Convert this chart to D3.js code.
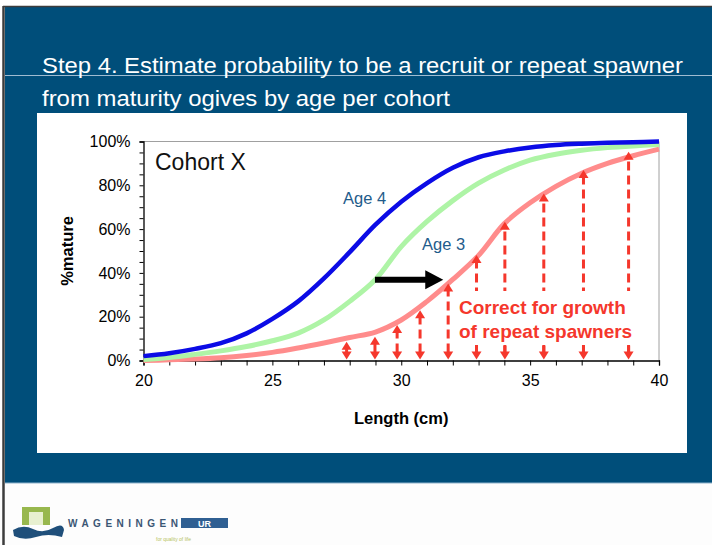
<!DOCTYPE html>
<html>
<head>
<meta charset="utf-8">
<script src="https://cdn.jsdelivr.net/npm/d3@7"></script>
<style>
  body { margin: 0; background: #fdfdfd; }
  svg { display: block; font-family: "Liberation Sans", Arial, sans-serif; }
</style>
</head>
<body>
<svg width="712" height="545"></svg>
<script>
// maturity ogives, % mature by length (cm)
const lengthCm = [20, 21, 22, 23, 24, 25, 26, 27, 28, 29, 30, 31, 32, 33, 34, 35, 36, 37, 38, 39, 40];
const age4Pct = [2, 3.3, 5.3, 7.9, 12.4, 19, 27, 37.5, 49.5, 62, 72.5, 81, 88, 92.8, 95.5, 97.3, 98.4, 99, 99.4, 99.7, 100];
const age3Pct = [0.5, 1.4, 2.8, 4.4, 6.4, 9, 12.5, 18.5, 27, 37, 52, 63.5, 73, 81, 87, 91.5, 94.2, 96, 97.2, 98, 98.6];
const age3GrownPct = [0, 0.3, 0.7, 1.3, 2.3, 3.7, 5.7, 8, 10.5, 13, 18.5, 27, 37, 48, 62.5, 72, 79.5, 85.5, 90, 93.5, 96.5];

// red "growth correction" arrows
const arrowLen = [27.88, 28.98, 29.84, 30.73, 31.82, 32.92, 34.02, 35.53, 37.07, 38.82];
const arrowTopPct = [8.6, 10.9, 16.2, 23, 35.2, 48.2, 63.4, 76.3, 87, 95.3];

// black shift arrow (Age 3 -> grown)
const shiftArrow = { from: 28.98, to: 31.63, pct: 36.9 };

const xTicks = [20, 25, 30, 35, 40];
const yTicks = [0, 20, 40, 60, 80, 100];

const svg = d3.select("svg");

// slide background
svg.append("rect").attr("width", 712).attr("height", 545).attr("fill", "#fdfdfd");
svg.append("rect").attr("width", 712).attr("height", 6).attr("fill", "#ffffff");
svg.append("rect").attr("x", 5).attr("y", 7).attr("width", 707).attr("height", 476).attr("fill", "#004e7a");
svg.append("line").attr("x1", 5).attr("x2", 712).attr("y1", 483).attr("y2", 483)
  .attr("stroke", "#8fb3cc").attr("stroke-width", 1);
svg.append("line").attr("x1", 3).attr("x2", 712).attr("y1", 6.5).attr("y2", 6.5)
  .attr("stroke", "#3c3c3c").attr("stroke-width", 1.5);
svg.append("line").attr("x1", 3.5).attr("x2", 3.5).attr("y1", 6).attr("y2", 545)
  .attr("stroke", "#3c3c3c").attr("stroke-width", 2.5);

// title
svg.append("line").attr("x1", 5).attr("x2", 712).attr("y1", 75.5).attr("y2", 75.5)
  .attr("stroke", "#9fbcd2").attr("stroke-width", 1.2);
svg.append("text").attr("x", 42).attr("y", 73).attr("fill", "#fff").attr("font-size", 22)
  .attr("textLength", 641).attr("lengthAdjust", "spacingAndGlyphs")
  .text("Step 4. Estimate probability to be a recruit or repeat spawner");
svg.append("text").attr("x", 42).attr("y", 106).attr("fill", "#fff").attr("font-size", 22)
  .attr("textLength", 408).attr("lengthAdjust", "spacingAndGlyphs")
  .text("from maturity ogives by age per cohort");

// white chart panel
svg.append("rect").attr("x", 37).attr("y", 113).attr("width", 650).attr("height", 340).attr("fill", "#fff");

const x = d3.scaleLinear().domain([20, 40]).range([143.5, 659]);
const y = d3.scaleLinear().domain([0, 100]).range([360.5, 141.5]);

// frame (top and right)
svg.append("path")
  .attr("d", `M${x(20)},${y(100)}H${x(40)}V${y(0)}`)
  .attr("fill", "none").attr("stroke", "#a0a0a0").attr("stroke-width", 1);

// axes
const xAxis = svg.append("g").attr("transform", `translate(0,${y(0)})`)
  .call(d3.axisBottom(x).tickValues(d3.range(20, 41, 1)).tickSize(5).tickPadding(9)
    .tickFormat(d => xTicks.includes(d) ? d : ""));
const yAxis = svg.append("g").attr("transform", `translate(${x(20)},0)`)
  .call(d3.axisLeft(y).tickValues(d3.range(0, 101, 5)).tickSize(4).tickPadding(9)
    .tickFormat(d => yTicks.includes(d) ? d + "%" : ""));
[xAxis, yAxis].forEach(g => {
  g.selectAll("text").attr("font-size", 16).attr("fill", "#000")
    .attr("font-family", "'Liberation Sans', Arial, sans-serif");
  g.selectAll("line").attr("stroke", "#000");
  g.select(".domain").attr("stroke", "#000").attr("stroke-width", 1.3);
});

svg.append("text").attr("x", (x(20) + x(40)) / 2).attr("y", 423.5)
  .attr("text-anchor", "middle").attr("font-weight", "bold").attr("font-size", 16.5)
  .text("Length (cm)");
svg.append("text").attr("transform", `translate(73,${(y(0) + y(100)) / 2}) rotate(-90)`)
  .attr("text-anchor", "middle").attr("font-weight", "bold").attr("font-size", 16.5)
  .text("%mature");

// curves
const line = d3.line().x((d, i) => x(lengthCm[i])).y(d => y(d)).curve(d3.curveCatmullRom.alpha(0.5));
const curves = [
  { values: age3GrownPct, color: "#ff8c8c", width: 5 },
  { values: age3Pct, color: "#aef4a6", width: 5 },
  { values: age4Pct, color: "#0b0be6", width: 4.5 }
];
svg.append("g").selectAll("path").data(curves).join("path")
  .attr("d", d => line(d.values))
  .attr("fill", "none")
  .attr("stroke", d => d.color)
  .attr("stroke-width", d => d.width)
  .attr("stroke-linejoin", "round");

// red dashed arrows
const red = "#f5372c";
const arrows = svg.append("g");
const head = 8;
arrowLen.forEach((len, i) => {
  const ax = x(len), top = y(arrowTopPct[i]), bot = 359.5;
  arrows.append("line")
    .attr("x1", ax).attr("x2", ax).attr("y1", bot - head + 1).attr("y2", top + head - 1)
    .attr("stroke", red).attr("stroke-width", 3).attr("stroke-dasharray", "9,5");
  arrows.append("path").attr("fill", red)
    .attr("d", `M${ax - 5},${top + head}L${ax},${top}L${ax + 5},${top + head}Z`);
  arrows.append("path").attr("fill", red)
    .attr("d", `M${ax - 5},${bot - head}L${ax},${bot}L${ax + 5},${bot - head}Z`);
});
// knock out behind the note, then restore short bottom stems
svg.append("rect").attr("x", 455).attr("y", 291).attr("width", 190).attr("height", 54).attr("fill", "#fff");
arrowLen.forEach(len => {
  const ax = x(len);
  if (ax > 455 && ax < 645) {
    svg.append("line").attr("x1", ax).attr("x2", ax).attr("y1", 346).attr("y2", 352)
      .attr("stroke", red).attr("stroke-width", 3);
  }
});
svg.append("text").attr("x", 459).attr("y", 313.5).attr("fill", red)
  .attr("font-weight", "bold").attr("font-size", 19).text("Correct for growth");
svg.append("text").attr("x", 459).attr("y", 337.5).attr("fill", red)
  .attr("font-weight", "bold").attr("font-size", 19).text("of repeat spawners");

// black shift arrow
const sy = y(shiftArrow.pct), sx0 = x(shiftArrow.from), sx1 = x(shiftArrow.to);
svg.append("line").attr("x1", sx0).attr("x2", sx1 - 16).attr("y1", sy).attr("y2", sy)
  .attr("stroke", "#000").attr("stroke-width", 6);
svg.append("path").attr("fill", "#000")
  .attr("d", `M${sx1 - 18},${sy - 9.5}L${sx1},${sy}L${sx1 - 18},${sy + 9.5}Z`);

// labels
svg.append("text").attr("x", 155).attr("y", 170).attr("font-size", 23).attr("fill", "#111").text("Cohort X");
svg.append("text").attr("x", 343).attr("y", 204).attr("font-size", 16.5).attr("fill", "#1f5c8b").text("Age 4");
svg.append("text").attr("x", 422).attr("y", 249.5).attr("font-size", 16.5).attr("fill", "#1f5c8b").text("Age 3");

// footer logo
const logo = svg.append("g");
logo.append("rect").attr("x", 22).attr("y", 507).attr("width", 28).attr("height", 18).attr("fill", "#98b84e");
logo.append("rect").attr("x", 29).attr("y", 512).attr("width", 14).attr("height", 13).attr("fill", "#e8f0d0");
logo.append("path").attr("fill", "#1f4f7a")
  .attr("d", "M13,530 Q23,524 33,529 T53,528 T64,530 L62,537 Q48,533 36,537 T14,536 Z");
logo.append("text").attr("x", 68).attr("y", 527).attr("font-size", 10).attr("font-weight", "bold")
  .attr("textLength", 110).attr("lengthAdjust", "spacing")
  .attr("fill", "#3b5674").text("WAGENINGEN");
logo.append("rect").attr("x", 181).attr("y", 518).attr("width", 47).attr("height", 10).attr("fill", "#2f5f92");
logo.append("text").attr("x", 204.5).attr("y", 526.5).attr("text-anchor", "middle").attr("font-size", 9)
  .attr("font-weight", "bold").attr("fill", "#fff").text("UR");
logo.append("text").attr("x", 156).attr("y", 541).attr("font-size", 5).attr("fill", "#b7c35a")
  .text("for quality of life");
</script>
</body>
</html>
